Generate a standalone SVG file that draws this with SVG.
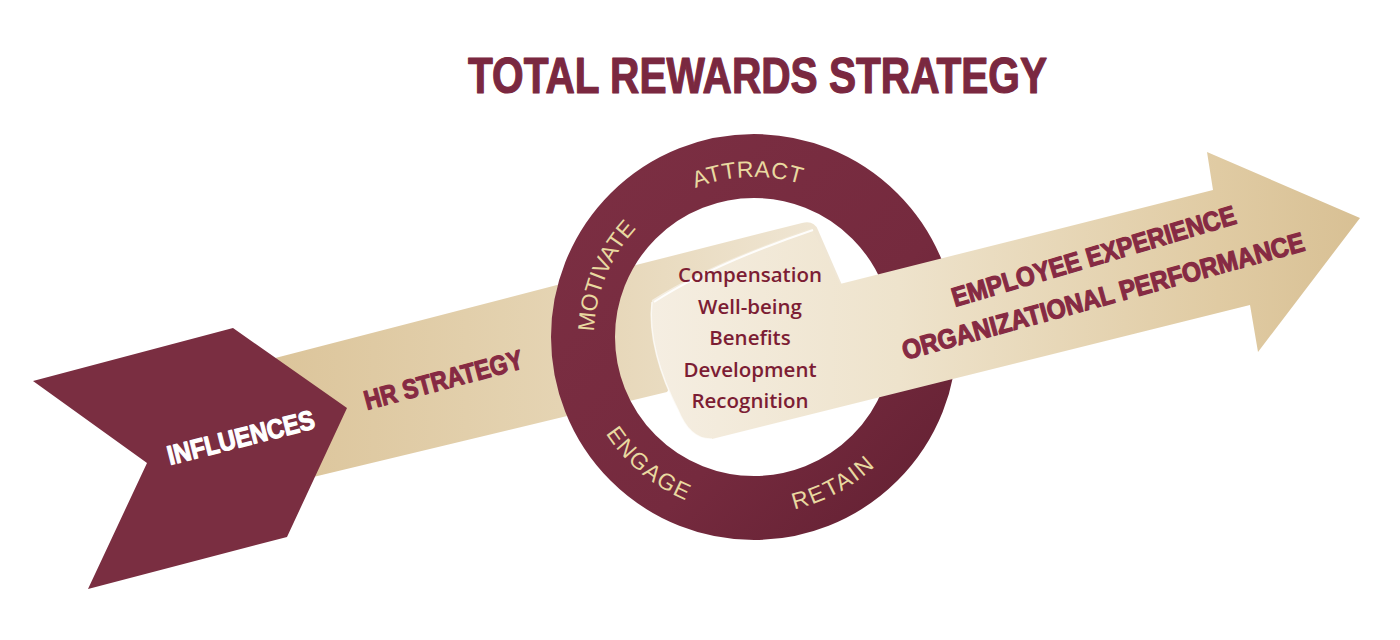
<svg xmlns="http://www.w3.org/2000/svg" width="1400" height="640" viewBox="0 0 1400 640">
  <defs>
    <linearGradient id="bandL" gradientUnits="userSpaceOnUse" x1="280" y1="0" x2="840" y2="0">
      <stop offset="0" stop-color="#dcc59b"/>
      <stop offset="0.5" stop-color="#e5d4b3"/>
      <stop offset="1" stop-color="#f0e7d6"/>
    </linearGradient>
    <linearGradient id="bandR" gradientUnits="userSpaceOnUse" x1="650" y1="0" x2="1360" y2="0">
      <stop offset="0" stop-color="#f5eee2"/>
      <stop offset="0.35" stop-color="#eee3cc"/>
      <stop offset="0.8" stop-color="#e0cba3"/>
      <stop offset="1" stop-color="#d8c094"/>
    </linearGradient>
    <linearGradient id="ringG" gradientUnits="userSpaceOnUse" x1="560" y1="150" x2="950" y2="530">
      <stop offset="0" stop-color="#7c2f43"/>
      <stop offset="0.6" stop-color="#752a3e"/>
      <stop offset="1" stop-color="#622032"/>
    </linearGradient>
    <path id="cw" d="M754,497 A160,160 0 1 1 754,177 A160,160 0 1 1 754,497"/>
    <path id="ccw" d="M577,337 A177,177 0 1 0 931,337 A177,177 0 1 0 577,337"/>
    <style>
      .cond { font-family: "Liberation Sans Narrow", "Liberation Sans", "DejaVu Sans Condensed", sans-serif; font-weight: bold; }
      .thick { stroke-width: 1.2px; stroke-linejoin: round; }
      .ringtxt { font-family: "Liberation Sans", "Lato", sans-serif; font-size: 23px; fill: #e9d9a0; }
      .list { font-family: "Open Sans", "Noto Sans", sans-serif; font-weight: 600; font-size: 20.5px; fill: #7c1d34; text-anchor: middle; }
      .maroonTxt { fill: #862a43; stroke: #862a43; }
    </style>
  </defs>

  <rect width="1400" height="640" fill="#ffffff"/>

  <g id="title">
    <text class="cond thick" x="468" y="93" font-size="50" fill="#7a2840" stroke="#7a2840" stroke-width="1.6" textLength="579" lengthAdjust="spacingAndGlyphs">TOTAL REWARDS STRATEGY</text>
  </g>

  <g id="connectors">
    <path id="band-left" d="M240,367 L557,285 L802,223 Q814,220 818,230 L842,285 L700,340 L667,392 L563,417 L280,485 Z" fill="url(#bandL)"/>
  </g>

  <g id="hr-strategy">
    <text class="cond maroonTxt thick" font-size="27" transform="translate(367,410) rotate(-15)" textLength="163" lengthAdjust="spacingAndGlyphs">HR STRATEGY</text>
  </g>

  <g id="influences">
    <polygon points="33,381 233,328 347,408 287,537 88,589 147,463" fill="#7a2e41"/>
    <text class="cond thick" font-size="27" fill="#ffffff" stroke="#ffffff" transform="translate(170,465) rotate(-14.2)" textLength="151" lengthAdjust="spacingAndGlyphs">INFLUENCES</text>
  </g>

  <g id="ring">
    <circle cx="754" cy="337" r="171" fill="none" stroke="url(#ringG)" stroke-width="64"/>
    <text class="ringtxt"><textPath href="#cw" startOffset="49.4%" text-anchor="middle" letter-spacing="0.5">ATTRACT</textPath></text>
    <text class="ringtxt"><textPath href="#cw" startOffset="31.2%" text-anchor="middle">MOTIVATE</textPath></text>
    <text class="ringtxt"><textPath href="#ccw" startOffset="14%" text-anchor="middle" letter-spacing="1.5">ENGAGE</textPath></text>
    <text class="ringtxt"><textPath href="#ccw" startOffset="32.9%" text-anchor="middle" letter-spacing="2">RETAIN</textPath></text>
  </g>

  <g id="outcome-arrow">
    <path d="M652,300 C700,270 760,246 812,228 L840,284 L1213,190 L1207,152 L1360,218 L1258,352 L1250,305 L712,439 Q690,440 678,410 C660,375 648,335 652,300 Z" fill="url(#bandR)"/>
    <path d="M654,302 C700,272 760,248 813,230" fill="none" stroke="#ffffff" stroke-width="2" stroke-opacity="0.9"/>
    <path d="M652,302 C648,335 660,375 678,410 Q690,440 712,439" fill="none" stroke="#ffffff" stroke-width="1.5" stroke-opacity="0.7"/>
    <text class="cond maroonTxt thick" font-size="27" transform="translate(955,307) rotate(-16.5)" textLength="295" lengthAdjust="spacingAndGlyphs">EMPLOYEE EXPERIENCE</text>
    <text class="cond maroonTxt thick" font-size="27" transform="translate(905,360) rotate(-15.3)" textLength="416" lengthAdjust="spacingAndGlyphs">ORGANIZATIONAL PERFORMANCE</text>
  </g>

  <g id="rewards-list">
    <text class="list" x="750" y="282">Compensation</text>
    <text class="list" x="750" y="313.5">Well-being</text>
    <text class="list" x="750" y="345">Benefits</text>
    <text class="list" x="750" y="377">Development</text>
    <text class="list" x="750" y="408">Recognition</text>
  </g>
</svg>
